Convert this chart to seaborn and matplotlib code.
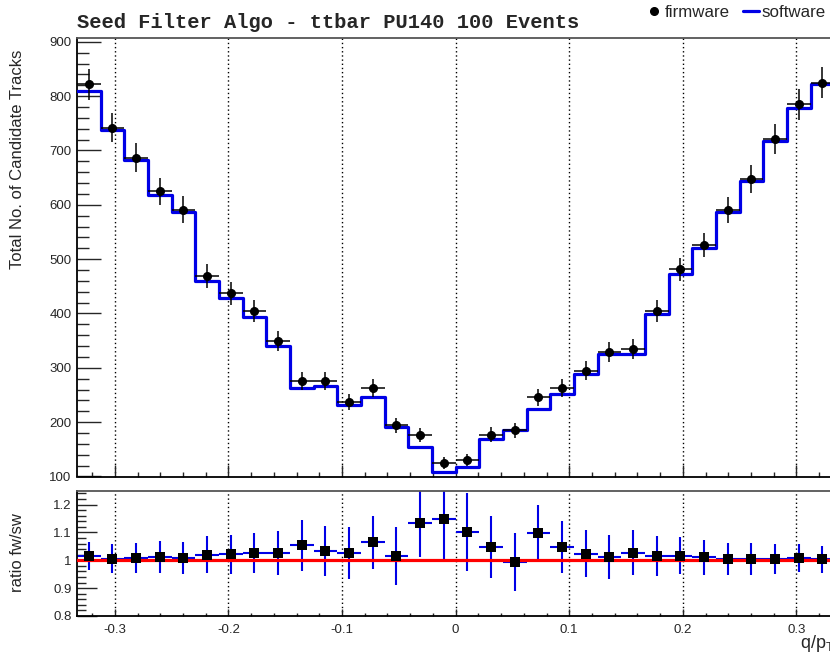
import matplotlib
matplotlib.use("Agg")
import matplotlib.pyplot as plt
import matplotlib.ticker as mticker
from matplotlib.lines import Line2D
import numpy as np
import pandas as pd
import seaborn as sns

# Binning: 32 bins in q/pT over [-1/3, 1/3]
X_MIN, X_MAX, N_BINS = -1 / 3, 1 / 3, 32

# Candidate track counts per bin
firmware = [822, 742, 687, 625, 591, 469, 437, 404, 349, 276, 276, 237, 263, 194, 176, 125,
            130, 177, 185, 246, 263, 295, 329, 334, 405, 481, 526, 590, 647, 721, 785, 825]
software = [810, 738, 682, 618, 586, 460, 428, 394, 340, 262, 267, 231, 247, 191, 155, 109,
            118, 169, 186, 224, 251, 288, 325, 325, 399, 473, 520, 587, 644, 717, 778, 822]

TITLE = "Seed Filter Algo - ttbar PU140 100 Events"
BLUE = "#0000e6"
RED = "#ff0000"

sns.set_theme(style="ticks")
plt.rcParams['font.family'] = ['Liberation Sans', 'DejaVu Sans']
plt.rcParams['axes.unicode_minus'] = False
plt.rcParams['mathtext.fontset'] = 'custom'
plt.rcParams['mathtext.rm'] = 'Liberation Sans'
plt.rcParams['mathtext.it'] = 'Liberation Sans:italic'

edges = np.linspace(X_MIN, X_MAX, N_BINS + 1)
centers = 0.5 * (edges[:-1] + edges[1:])
half_w = 0.5 * (edges[1] - edges[0])
df = pd.DataFrame({'qpt': centers, 'fw': firmware, 'sw': software}).astype(float)
df['ratio'] = df['fw'] / df['sw']
df['ratio_err'] = np.sqrt((np.sqrt(df['fw']) / df['sw']) ** 2
                          + (df['fw'] * np.sqrt(df['sw']) / df['sw'] ** 2) ** 2)

W, H = 830, 654
fig = plt.figure(figsize=(W / 100, H / 100), dpi=100)
left, right = 77 / W, 834.3 / W
ax_top = fig.add_axes([left, 1 - 476.5 / H, right - left, (476.5 - 38) / H])
ax_bot = fig.add_axes([left, 1 - 616 / H, right - left, (616 - 490.7) / H])

# upper panel: software histogram + firmware points
sns.histplot(data=df, x='qpt', weights='sw', bins=edges.tolist(), element='step', fill=False,
             color=BLUE, linewidth=2.3, ax=ax_top, zorder=3)
ax_top.errorbar(df['qpt'], df['fw'], xerr=half_w, yerr=np.sqrt(df['fw']), fmt='o', color='black',
                markersize=5.5, elinewidth=1.1, capsize=0, zorder=4)
ax_top.set_xlim(X_MIN, X_MAX)
ax_top.set_ylim(100, 907)
ax_top.set_xlabel("")
ax_top.set_ylabel("")
ax_top.yaxis.set_major_locator(mticker.MultipleLocator(100))
ax_top.yaxis.set_minor_locator(mticker.MultipleLocator(20))
ax_top.xaxis.set_major_locator(mticker.MultipleLocator(0.1))
ax_top.xaxis.set_minor_locator(mticker.MultipleLocator(0.02))
ax_top.tick_params(axis='x', which='major', direction='in', length=8.4, width=1, labelbottom=False)
ax_top.tick_params(axis='x', which='minor', direction='in', length=3.6, width=1)
ax_top.tick_params(axis='y', which='major', direction='in', length=17, width=1, labelsize=9.5, pad=4)
ax_top.tick_params(axis='y', which='minor', direction='in', length=8.6, width=1)

# lower panel: ratio
ax_bot.errorbar(df['qpt'], df['ratio'], xerr=half_w, yerr=df['ratio_err'], fmt='none', ecolor=BLUE,
                elinewidth=1.5, capsize=0, zorder=2)
ax_bot.axhline(1.0, color=RED, linewidth=2.3, zorder=3)
sns.scatterplot(data=df, x='qpt', y='ratio', marker='s', color='black', s=55,
                linewidth=0, ax=ax_bot, zorder=4)
ax_bot.set_xlim(X_MIN, X_MAX)
ax_bot.set_ylim(0.8, 1.25)
ax_bot.set_xlabel("")
ax_bot.set_ylabel("")
ax_bot.yaxis.set_major_locator(mticker.MultipleLocator(0.1))
ax_bot.yaxis.set_minor_locator(mticker.MultipleLocator(0.02))
ax_bot.yaxis.set_major_formatter(mticker.FormatStrFormatter('%g'))
ax_bot.xaxis.set_major_locator(mticker.MultipleLocator(0.1))
ax_bot.xaxis.set_minor_locator(mticker.MultipleLocator(0.02))
ax_bot.xaxis.set_major_formatter(mticker.FuncFormatter(lambda v, _: f"{round(v, 2):g}"))
ax_bot.tick_params(axis='x', which='major', direction='in', length=5, width=1, labelsize=9.5, pad=6)
ax_bot.tick_params(axis='x', which='minor', direction='in', length=2.5, width=1)
ax_bot.tick_params(axis='y', which='major', direction='in', length=14.4, width=1, labelsize=9.5, pad=4)
ax_bot.tick_params(axis='y', which='minor', direction='in', length=6.5, width=1)

for ax in (ax_top, ax_bot):
    ax.xaxis.grid(True, which='major', color='black', linestyle=(0, (1, 2)), linewidth=1)
    ax.yaxis.grid(False)
    ax.set_axisbelow(True)
    for side in ('left', 'bottom'):
        ax.spines[side].set_color('black')
        ax.spines[side].set_linewidth(1.3)
    ax.spines['top'].set_color('#555555')
    ax.spines['top'].set_linewidth(1.3)
    ax.spines['right'].set_color('#555555')

# texts
fig.text(77 / W, 1 - 28.5 / H, TITLE, family='Liberation Mono', weight='bold',
         fontsize=14.7, ha='left', va='baseline')
fig.text(18 / W, 1 - 50 / H, "Total No. of Candidate Tracks", rotation=90,
         fontsize=12, ha='center', va='top')
fig.text(18 / W, 1 - 553 / H, "ratio fw/sw", rotation=90, fontsize=12,
         ha='center', va='center')
fig.text(835 / W, 1 - 648 / H, r"q/p$_{\mathrm{T}}$", fontsize=13, ha='right', va='baseline')

handles = [Line2D([], [], marker='o', color='black', linestyle='none', markersize=5.5),
           Line2D([], [], color=BLUE, linewidth=2.3)]
fig.legend(handles, ["firmware", "software"], loc='upper right',
           bbox_to_anchor=(826 / W, 1 - 5 / H), ncol=2, frameon=False, fontsize=12.2,
           handlelength=0.95, handletextpad=0.16, columnspacing=0.77, borderpad=0,
           borderaxespad=0)

fig.savefig("out.png", dpi=100)
